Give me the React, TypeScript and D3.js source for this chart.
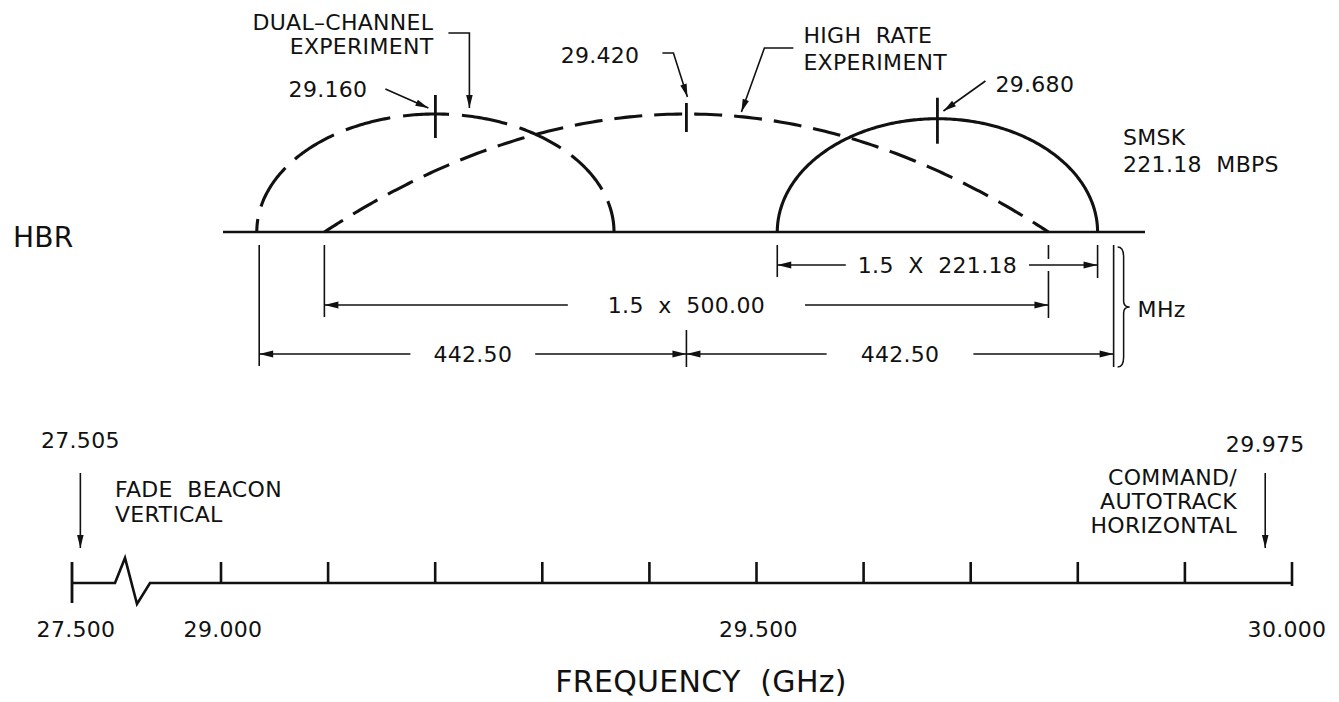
import React, { useEffect, useRef } from 'react';
import * as d3 from 'd3';

const W = 1339;
const H = 702;
const INK = '#111';
const FONT = '"DejaVu Sans", "Liberation Sans", Arial, sans-serif';

// HBR experiments: carrier centre (GHz), occupied bandwidth (MHz), relative level
const experimentKeys = ['dual', 'high', 'smsk'];
const centerFreqs = [29.16, 29.42, 29.68];
const bandwidthsMHz = [370, 1.5 * 500.0, 1.5 * 221.18];
const relativeLevels = [1.0, 1.0, 0.96];
const centerLabels = ['29.160', '29.420', '29.680'];

// Extent of the HBR baseline (GHz)
const hbrSpan = [28.94, 29.895];

// Dimension callouts under the HBR baseline
const halfSpanMHz = 442.5;
const dimLabels = ['1.5  X  221.18', '1.5  x  500.00', '442.50', '442.50'];

// Frequency axis (GHz)
const axisTicks = [29.0, 29.1, 29.2, 29.3, 29.4, 29.5, 29.6, 29.7, 29.8, 29.9, 30.0];
const axisStart = 27.5;
const axisLabelValues = [27.5, 29.0, 29.5, 30.0];
const axisLabels = ['27.500', '29.000', '29.500', '30.000'];
const beaconFreqs = [27.505, 29.975];
const beaconLabels = ['27.505', '29.975'];

export default function App() {
  const ref = useRef<SVGSVGElement | null>(null);

  useEffect(() => {
    const svg = d3.select(ref.current);
    svg.selectAll('*').remove();

    const txt = (g: any, x: number, y: number, s: string, size = 22, anchor = 'start') =>
      g.append('text')
        .attr('x', x).attr('y', y)
        .attr('font-family', FONT).attr('font-size', size)
        .attr('letter-spacing', 0.3)
        .attr('text-anchor', anchor)
        .attr('fill', INK)
        .style('white-space', 'pre')
        .text(s);

    const line = (g: any, pts: number[][], w = 1.6) =>
      g.append('path')
        .attr('d', d3.line()(pts as [number, number][]))
        .attr('fill', 'none').attr('stroke', INK).attr('stroke-width', w);

    const head = (g: any, x1: number, y1: number, x2: number, y2: number, len = 13, half = 3.3) => {
      const a = Math.atan2(y2 - y1, x2 - x1);
      const bx = x2 - len * Math.cos(a);
      const by = y2 - len * Math.sin(a);
      const px = -Math.sin(a) * half;
      const py = Math.cos(a) * half;
      g.append('path')
        .attr('d', `M${x2},${y2}L${bx + px},${by + py}L${bx - px},${by - py}Z`)
        .attr('fill', INK);
    };

    const leader = (g: any, pts: number[][]) => {
      line(g, pts, 1.6);
      const n = pts.length;
      head(g, pts[n - 2][0], pts[n - 2][1], pts[n - 1][0], pts[n - 1][1]);
    };

    // ---------------- HBR spectrum diagram ----------------
    const top = svg.append('g');
    const baseY = 232;
    const xTop = d3.scaleLinear().domain(hbrSpan).range([223, 1145]);
    const yTop = d3.scaleLinear().domain([0, 1]).range([baseY, 114]);

    txt(top, 13, 247, 'HBR', 28);
    line(top, [[xTop(hbrSpan[0]), baseY], [xTop(hbrSpan[1]), baseY]], 2.6);

    const shapes: Record<string, string> = { dual: 'ellipse', high: 'parabola', smsk: 'ellipse' };
    const dashes: Record<string, string | null> = { dual: '46,13', high: '28,12', smsk: null };
    const dashOffset: Record<string, number> = { dual: 33, high: 6, smsk: 0 };

    experimentKeys.forEach((key, i) => {
      const pts = d3.range(0, 241).map((k) => {
        const t = (Math.PI * k) / 240;
        const u = -Math.cos(t);
        const f = centerFreqs[i] + (u * bandwidthsMHz[i]) / 2000;
        const s = shapes[key] === 'ellipse' ? Math.sin(t) : Math.sin(t) ** 2;
        return [xTop(f), yTop(relativeLevels[i] * s)] as [number, number];
      });
      const p = top.append('path')
        .attr('d', d3.line()(pts))
        .attr('fill', 'none').attr('stroke', INK).attr('stroke-width', 3.1);
      if (dashes[key]) p.attr('stroke-dasharray', dashes[key]).attr('stroke-dashoffset', dashOffset[key]);
    });

    // centre-frequency markers
    const markerSpan: Record<string, number[]> = { dual: [-19, 24], high: [-11, 18], smsk: [-21, 25] };
    const mx = centerFreqs.map((f) => xTop(f));
    const my = relativeLevels.map((l) => yTop(l));
    experimentKeys.forEach((key, i) => {
      line(top, [[mx[i], my[i] + markerSpan[key][0]], [mx[i], my[i] + markerSpan[key][1]]], 2.8);
    });

    // dual-channel callouts
    {
      const x = mx[0];
      txt(top, x - 68, 97, centerLabels[0], 22, 'end');
      leader(top, [[x - 50, 89], [x - 7, 108]]);
      txt(top, x - 2, 30, 'DUAL\u2013CHANNEL', 22, 'end');
      txt(top, x - 2, 54, 'EXPERIMENT', 22, 'end');
      leader(top, [[x + 13, 33], [x + 34, 33], [x + 34, 108]]);
    }
    // high-rate callouts
    {
      const x = mx[1];
      txt(top, x - 47, 63, centerLabels[1], 22, 'end');
      leader(top, [[x - 24, 53], [x - 13, 53], [x + 1, 97]]);
      txt(top, x + 117, 43, 'HIGH  RATE', 22);
      txt(top, x + 117, 70, 'EXPERIMENT', 22);
      leader(top, [[x + 107, 48], [x + 78, 48], [x + 55, 112]]);
    }
    // SMSK callouts
    {
      const x = mx[2];
      txt(top, x + 58, 92, centerLabels[2], 22);
      leader(top, [[x + 48, 81], [x + 6, 111]]);
      txt(top, 1123, 145, 'SMSK', 22);
      txt(top, 1123, 172, '221.18  MBPS', 22);
    }

    // ---------------- dimensions ----------------
    const dims = [
      { lo: centerFreqs[2] - bandwidthsMHz[2] / 2000, hi: centerFreqs[2] + bandwidthsMHz[2] / 2000, row: 265, pad: 12 },
      { lo: centerFreqs[1] - bandwidthsMHz[1] / 2000, hi: centerFreqs[1] + bandwidthsMHz[1] / 2000, row: 305, pad: 40 },
      { lo: centerFreqs[1] - halfSpanMHz / 1000, hi: centerFreqs[1], row: 354, pad: 23 },
      { lo: centerFreqs[1], hi: centerFreqs[1] + halfSpanMHz / 1000, row: 354, pad: 34 },
    ];

    const dimG = svg.append('g');
    const extTop = baseY + 13;

    // extension lines (one per distinct end), broken where another dimension line passes
    const ends: { x: number; y0: number; y1: number }[] = [];
    const addEnd = (x: number, y0: number, y1: number) => {
      const e = ends.find((d) => Math.abs(d.x - x) < 0.5);
      if (e) { e.y0 = Math.min(e.y0, y0); e.y1 = Math.max(e.y1, y1); }
      else ends.push({ x, y0, y1 });
    };
    dims.forEach((d, i) => {
      const a = xTop(d.lo);
      const b = xTop(d.hi);
      if (i === 3) addEnd(a, d.row - 24, d.row + 13);
      else if (i !== 2 || true) {
        if (i !== 3) addEnd(a, extTop, d.row + 12);
      }
      if (i !== 2) addEnd(b, extTop, d.row + 13);
    });
    ends.forEach((e) => {
      const cuts = dims
        .filter((d) => xTop(d.lo) < e.x - 1 && xTop(d.hi) > e.x + 1 && d.row > e.y0 && d.row < e.y1)
        .map((d) => d.row)
        .sort((p, q) => p - q);
      let y = e.y0;
      cuts.forEach((c) => { line(dimG, [[e.x, y], [e.x, c - 6]], 1.6); y = c + 6; });
      line(dimG, [[e.x, y], [e.x, e.y1]], 1.6);
    });

    dims.forEach((d, i) => {
      const a = xTop(d.lo);
      const b = xTop(d.hi);
      const mid = (a + b) / 2;
      const t = txt(dimG, mid, d.row + 8, dimLabels[i], 22, 'middle');
      const tw = (t.node() as SVGTextElement).getComputedTextLength();
      const g0 = mid - tw / 2 - d.pad;
      const g1 = mid + tw / 2 + d.pad;
      line(dimG, [[a, d.row], [g0, d.row]], 1.6);
      line(dimG, [[g1, d.row], [b, d.row]], 1.6);
      head(dimG, g0, d.row, a, d.row, 14, 3.4);
      head(dimG, g1, d.row, b, d.row, 14, 3.4);
    });

    // MHz brace
    {
      const bx = xTop(dims[3].hi) + 4;
      const y0 = extTop + 2;
      const y1 = dims[3].row + 13;
      const ym = (y0 + y1) / 2;
      dimG.append('path')
        .attr('d', `M${bx},${y0} Q${bx + 6},${y0} ${bx + 6},${y0 + 10} L${bx + 6},${ym - 6} Q${bx + 6},${ym} ${bx + 12},${ym} Q${bx + 6},${ym} ${bx + 6},${ym + 6} L${bx + 6},${y1 - 10} Q${bx + 6},${y1} ${bx},${y1}`)
        .attr('fill', 'none').attr('stroke', INK).attr('stroke-width', 1.5);
      txt(dimG, bx + 20, ym + 10, 'MHz', 22);
    }

    // ---------------- frequency axis ----------------
    const ax = svg.append('g');
    const axisY = 583;
    const xAxis = d3.scaleLinear().domain([29.0, 30.0]).range([221, 1292]);
    const step = xAxis(29.1) - xAxis(29.0);
    const xLow = d3.scaleLinear().domain([27.5, 27.6]).range([72, 72 + step]);
    const xAt = (f: number) => (f < 28.5 ? xLow(f) : xAxis(f));

    const x0 = xLow(axisStart);
    line(ax, [
      [x0, axisY], [x0 + 43, axisY], [x0 + 53, axisY - 25], [x0 + 65, axisY + 21], [x0 + 78, axisY],
      [xAxis(axisTicks[axisTicks.length - 1]), axisY],
    ], 2.6);
    line(ax, [[x0, axisY - 21], [x0, axisY + 20]], 2.8);
    axisTicks.forEach((f, i) => {
      const last = i === axisTicks.length - 1;
      line(ax, [[xAxis(f), axisY - 21], [xAxis(f), axisY + (last ? 3 : 0)]], 2.6);
    });
    axisLabelValues.forEach((f, i) => {
      txt(ax, xAt(f) + (i === 0 ? 4 : i === 3 ? -5 : 2), 637, axisLabels[i], 22, 'middle');
    });

    // beacons
    beaconFreqs.forEach((f, i) => {
      const x = xAt(f) + (i === 0 ? 3 : 0);
      leader(ax, [[x, 473], [x, 548]]);
      txt(ax, x, i === 0 ? 448 : 452, beaconLabels[i], 22, 'middle');
    });
    txt(ax, 115, 497, 'FADE  BEACON', 22);
    txt(ax, 115, 522, 'VERTICAL', 22);
    txt(ax, 1237, 485, 'COMMAND/', 22, 'end');
    txt(ax, 1237, 509, 'AUTOTRACK', 22, 'end');
    txt(ax, 1237, 533, 'HORIZONTAL', 22, 'end');

    txt(ax, 701, 692, 'FREQUENCY  (GHz)', 30, 'middle');
  }, []);

  return (
    <svg
      ref={ref}
      width={W}
      height={H}
      viewBox={`0 0 ${W} ${H}`}
      style={{ position: 'absolute', left: 0, top: 0, background: '#fff' }}
    />
  );
}
